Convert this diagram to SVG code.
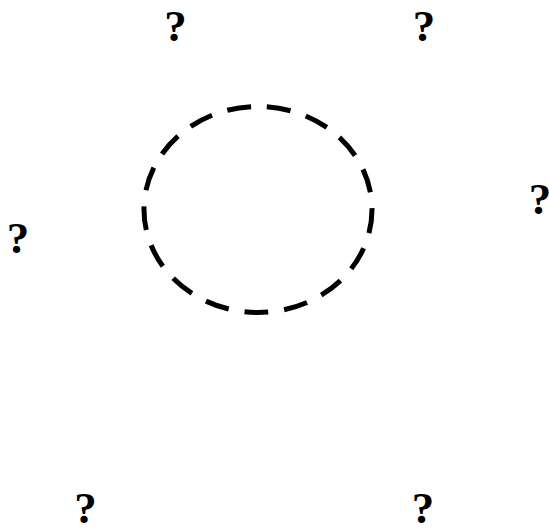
<svg xmlns="http://www.w3.org/2000/svg" width="549" height="529" viewBox="0 0 549 529">
<style>
.q{font-family:"Liberation Serif","Times New Roman",serif;font-weight:bold;font-size:45px;fill:#000;text-anchor:middle}
.ring{fill:none;stroke:#000;stroke-width:5;stroke-dasharray:24 16}
</style>
<rect width="549" height="529" fill="#fff"/>
<g id="ring"><ellipse class="ring" cx="258" cy="209.5" rx="114" ry="103"/></g>
<g id="q1"><text class="q" x="175.5" y="41">?</text></g>
<g id="q2"><text class="q" x="424" y="41">?</text></g>
<g id="q3"><text class="q" x="540" y="214">?</text></g>
<g id="q4"><text class="q" x="18" y="253">?</text></g>
<g id="q5"><text class="q" x="85.5" y="523">?</text></g>
<g id="q6"><text class="q" x="423" y="523">?</text></g>
<g id="connectors"/>
</svg>
